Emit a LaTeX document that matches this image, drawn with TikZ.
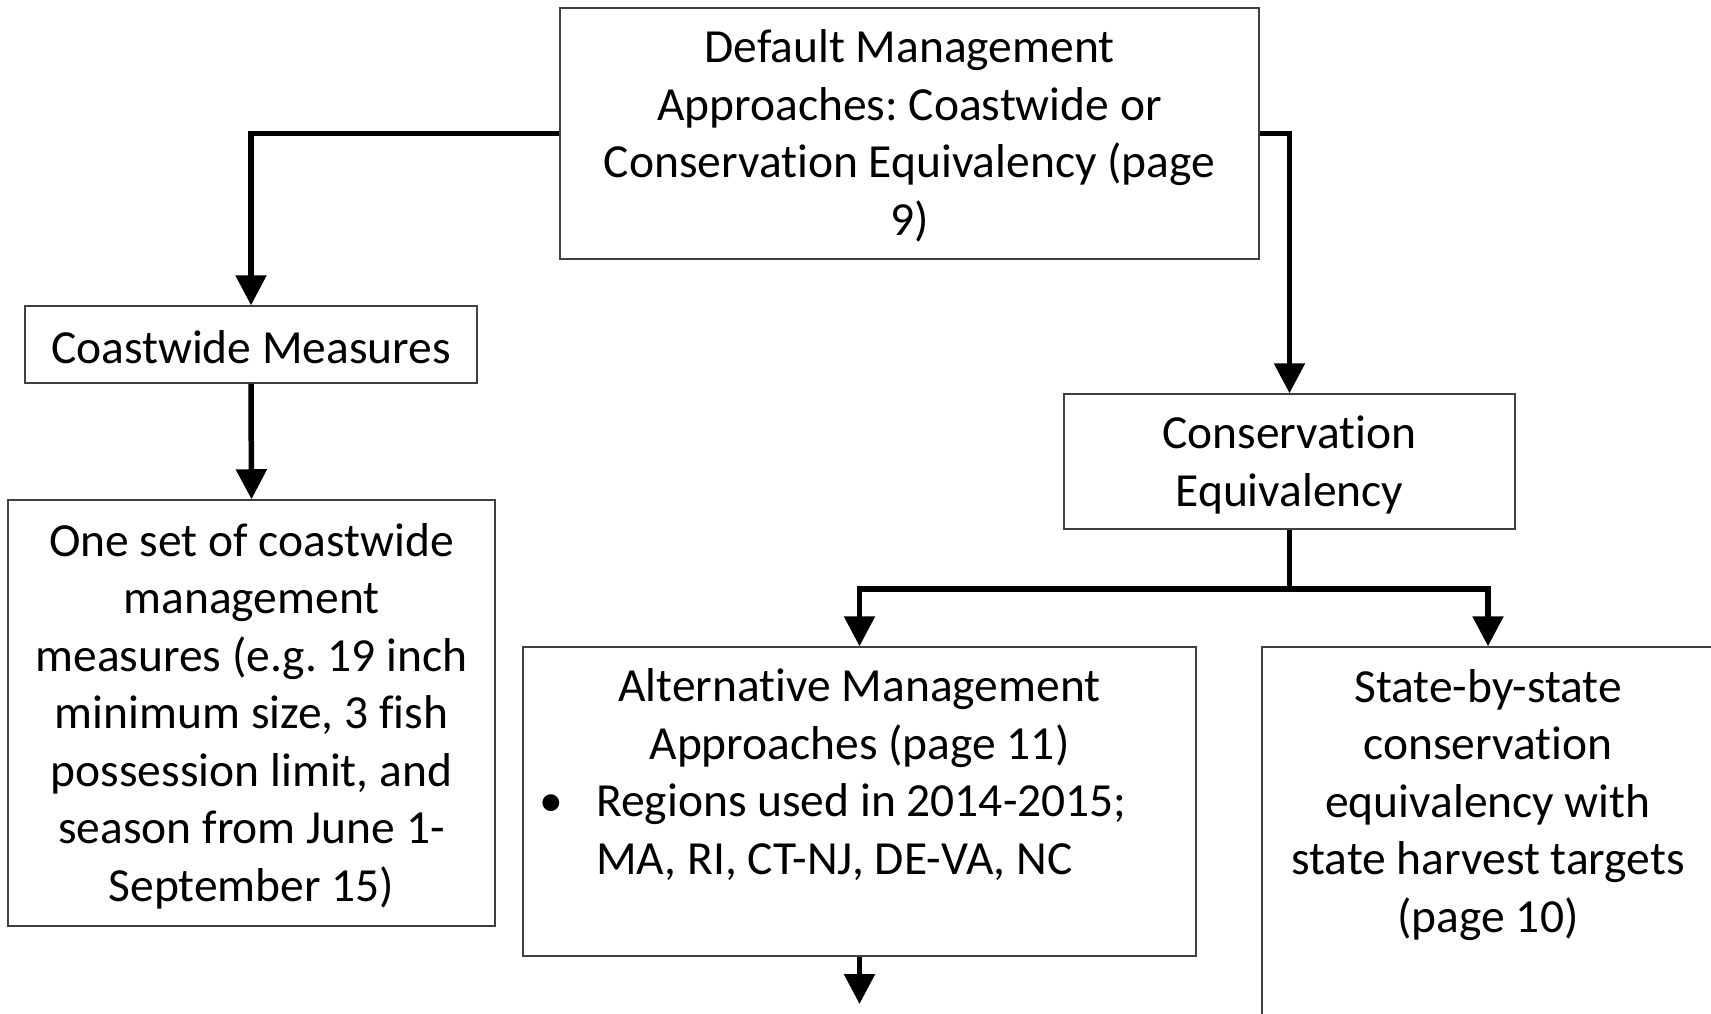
\documentclass[tikz,border=0pt]{standalone}
\usepackage{fontspec}
\setmainfont[Ligatures={NoCommon}]{Carlito}
\usetikzlibrary{arrows.meta}
\tikzset{
  box/.style={draw=black!75, line width=1.5pt, rectangle, inner sep=0pt, align=center,
    font=\fontsize{47.5}{57.5}\selectfont\frenchspacing},
  txt/.style={inner sep=0pt, font=\fontsize{47.5}{57.5}\selectfont\frenchspacing},
  conn/.style={line width=5.5pt, -{Triangle[length=30pt,width=30pt]}},
  plain/.style={line width=5.5pt}
}
\begin{document}
\begin{tikzpicture}[x=1pt,y=-1pt]
\useasboundingbox (0,0) rectangle (1711,1013);
\clip (0,0) rectangle (1711,1013);
\fill[white] (0,0) rectangle (1711,1013);

\node[box, minimum width=699pt, minimum height=251pt] (def) at (909.5,133.5) {};
\node[txt, align=center] (deftext) at (909.5,136)
  {Default Management\\Approaches: Coastwide or\\Conservation Equivalency (page\\9)};
\node[box, minimum width=452pt, minimum height=77pt] (coast) at (251,344.5) {};
\node[txt] (coasttext) at (251,347) {Coastwide Measures};
\node[box, minimum width=487pt, minimum height=426pt] (oneset) at (251.5,713) {};
\node[txt, align=center] (onesettext) at (251.5,716)
  {One set of coastwide\\management\\measures (e.g. 19 inch\\minimum size, 3 fish\\possession limit, and\\season from June 1-\\September 15)};
\node[box, minimum width=451pt, minimum height=135pt] (cons) at (1289.5,461.5) {};
\node[txt, align=center] (constext) at (1289.5,465) {Conservation\\Equivalency};
\node[box, minimum width=673pt, minimum height=309pt] (alt) at (859.5,801.5) {};
\node[box, minimum width=452pt, minimum height=413pt] (state) at (1488,853.5) {};

\node[txt, align=center, anchor=base] (alttitle) at (859.5,759) {Alternative Management\\Approaches (page 11)};
\node[txt, anchor=base] (bullet) at (551,816) {•};
\node[txt, align=left, anchor=base west] (alttext) at (596,874) {Regions used in 2014-2015;\\MA, RI, CT-NJ, DE-VA, NC};
\node[txt, align=center, anchor=base] (statetext) at (1488,932)
  {State-by-state\\conservation\\equivalency with\\state harvest targets\\(page 10)};

\coordinate (split) at (1289.5,589);
\coordinate (altout) at (859.5,1004);

\draw[conn] (def.west) -| (coast.north);
\draw[conn] (def.east) -| (cons.north);
\draw[conn] (coast.south) -- (oneset.north);
\draw[plain] (cons.south) -- (split);
\draw[conn] (split) -| (alt.north);
\draw[conn] (split) -| (state.north);
\draw[conn] (alt.south) -- (altout);
\end{tikzpicture}
\end{document}
